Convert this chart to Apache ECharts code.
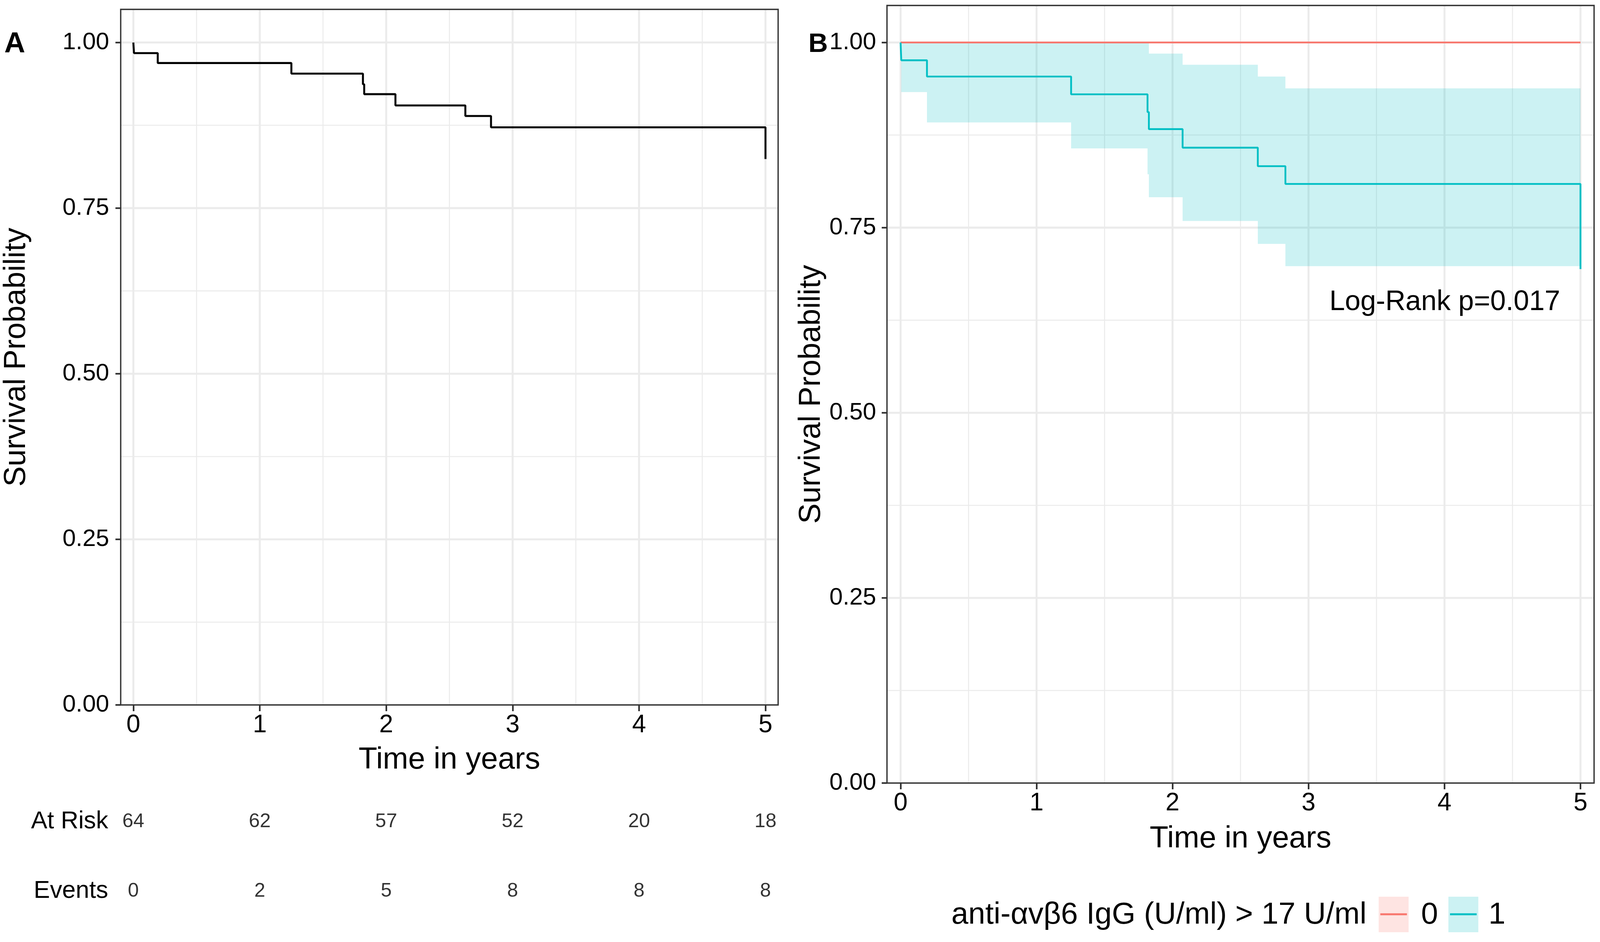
<!DOCTYPE html>
<html lang="en">
<head>
    <meta charset="UTF-8">
    <title>Survival curves</title>
    <script src="https://cdn.jsdelivr.net/npm/echarts@6/dist/echarts.min.js"></script>
    <style>
        html, body { margin: 0; padding: 0; background: #fff; overflow: hidden; }
        #main { width: 100vw; height: 100vh; }
    </style>
</head>
<body>
    <div id="main"></div>

    <script>
        // panel A: whole cohort
        var timeA = [0, 0.005, 0.193, 1.25, 1.816, 1.826, 2.073, 2.626, 2.829, 5.0];
        var survA = [1.0, 0.984, 0.969, 0.953, 0.937, 0.922, 0.905, 0.889, 0.872, 0.824];

        // panel B: group 0 (red) and group 1 (teal, with confidence band)
        var timeB0 = [0, 5.0];
        var survB0 = [1.0, 1.0];
        var timeB1 = [0, 0.005, 0.194, 1.254, 1.816, 1.826, 2.074, 2.627, 2.830, 5.0];
        var survB1 = [1.0, 0.976, 0.954, 0.930, 0.906, 0.883, 0.858, 0.833, 0.809, 0.694];
        var lowerB1 = [1.0, 0.933, 0.892, 0.857, 0.822, 0.791, 0.759, 0.728, 0.698, 0.698];
        var upperB1 = [1.0, 1.0, 1.0, 1.0, 1.0, 0.985, 0.970, 0.954, 0.938, 0.938];

        // risk table under panel A
        var riskTimes = [0, 1, 2, 3, 4, 5];
        var atRisk = [64, 62, 57, 52, 20, 18];
        var events = [0, 2, 5, 8, 8, 8];
        var tableRows = ['Events', 'At Risk'];

        // axis breaks
        var xTicks = [0, 1, 2, 3, 4, 5];
        var xMinor = [0.5, 1.5, 2.5, 3.5, 4.5];
        var yTicks = [0, 0.25, 0.5, 0.75, 1];
        var yMinor = [0.125, 0.375, 0.625, 0.875];

        var groupNames = ['0', '1'];
        var legendTitle = 'anti-\u03b1v\u03b26 IgG (U/ml) > 17 U/ml';
        var pValueText = 'Log-Rank p=0.017';

        var FONT = '"Liberation Sans", Arial, Helvetica, sans-serif';
        var RED = '#F8766D';
        var TEAL = '#00BFC4';

        var dom = document.getElementById('main');
        var mychart = echarts.init(dom, null, { renderer: 'canvas' });

        // layout was measured on a 4865 x 2412 picture; scale to whatever the window is
        var sx = dom.clientWidth / 4865;
        var sy = dom.clientHeight / 2412;
        var ls = Math.min(sx, sy);          // line widths
        var ts = Math.sqrt(sx * sy);        // text sizes
        function X(v) { return v * sx; }
        function Y(v) { return v * sy; }
        function F(v) { return v * ls; }
        function T(v) { return v * ts; }

        function pairs(xs, ys) {
            return xs.map(function (x, i) { return [x, ys[i]]; });
        }

        // background grid lines, drawn through the axis scales
        function gridLines(idx) {
            var items = [];
            xTicks.forEach(function (v) { items.push([0, v, 1]); });
            xMinor.forEach(function (v) { items.push([0, v, 0]); });
            yTicks.forEach(function (v) { if (v > 0) items.push([1, v, 1]); });
            yMinor.forEach(function (v) { items.push([1, v, 0]); });
            return {
                type: 'custom',
                xAxisIndex: idx,
                yAxisIndex: idx,
                silent: true,
                z: 1,
                data: items,
                renderItem: function (params, api) {
                    var cs = params.coordSys;
                    var kind = api.value(0), v = api.value(1), major = api.value(2);
                    var shape;
                    if (kind === 0) {
                        var px = api.coord([v, 0])[0];
                        shape = { x1: px, y1: cs.y, x2: px, y2: cs.y + cs.height };
                    } else {
                        var py = api.coord([0, v])[1];
                        shape = { x1: cs.x, y1: py, x2: cs.x + cs.width, y2: py };
                    }
                    return {
                        type: 'line',
                        shape: shape,
                        style: { stroke: '#EBEBEB', lineWidth: F(major ? 6 : 3) }
                    };
                }
            };
        }

        // confidence band of group 1 as one stepped polygon
        var bandSeries = {
            type: 'custom',
            xAxisIndex: 1,
            yAxisIndex: 1,
            silent: true,
            z: 2,
            data: [[timeB1[0], lowerB1[0]]],
            renderItem: function (params, api) {
                var pts = [];
                var n = timeB1.length;
                for (var i = 0; i < n - 1; i++) {
                    pts.push(api.coord([timeB1[i], upperB1[i]]));
                    pts.push(api.coord([timeB1[i + 1], upperB1[i]]));
                }
                for (var j = n - 2; j >= 0; j--) {
                    pts.push(api.coord([timeB1[j + 1], lowerB1[j]]));
                    pts.push(api.coord([timeB1[j], lowerB1[j]]));
                }
                return {
                    type: 'polygon',
                    shape: { points: pts },
                    style: { fill: 'rgba(0,191,196,0.2)' }
                };
            }
        };

        function xAxisFor(idx, gap) {
            return {
                type: 'value', gridIndex: idx, min: -0.1, max: 5.1,
                splitLine: { show: false },
                axisLine: { show: false, onZero: false },
                axisTick: { show: true, length: Y(16), customValues: xTicks, lineStyle: { color: '#333333', width: F(5) } },
                axisLabel: {
                    customValues: xTicks, fontSize: T(70), color: '#000', margin: Y(20), fontFamily: FONT,
                    formatter: function (v) { return String(v); }
                },
                name: 'Time in years', nameLocation: 'middle', nameGap: Y(gap),
                nameTextStyle: { fontSize: T(85), color: '#000', fontFamily: FONT, verticalAlign: 'middle' }
            };
        }

        function yAxisFor(idx, labelMargin, gap) {
            return {
                type: 'value', gridIndex: idx, min: 0, max: 1.05,
                splitLine: { show: false },
                axisLine: { show: false, onZero: false },
                axisTick: { show: true, length: X(16), customValues: yTicks, lineStyle: { color: '#333333', width: F(5) } },
                axisLabel: {
                    customValues: yTicks, fontSize: T(67), color: '#000', margin: X(labelMargin), fontFamily: FONT,
                    formatter: function (v) { return v.toFixed(2); }
                },
                name: 'Survival Probability', nameLocation: 'middle', nameRotate: 90, nameGap: X(gap),
                nameTextStyle: { fontSize: T(85), color: '#000', fontFamily: FONT, verticalAlign: 'middle' }
            };
        }

        var tableData = [];
        riskTimes.forEach(function (t, i) {
            tableData.push([t, 'At Risk', atRisk[i]]);
            tableData.push([t, 'Events', events[i]]);
        });

        var option = {
            animation: false,
            backgroundColor: '#fff',
            textStyle: { fontFamily: FONT },
            grid: [
                { left: X(367), top: Y(24), width: X(1999), height: Y(1781), show: true, z: 10,
                  borderColor: '#333333', borderWidth: F(4), backgroundColor: 'transparent', outerBoundsMode: 'none' },
                { left: X(2697), top: Y(14), width: X(2150), height: Y(1991), show: true, z: 10,
                  borderColor: '#333333', borderWidth: F(4), backgroundColor: 'transparent', outerBoundsMode: 'none' },
                { left: X(367), top: Y(2015), width: X(1999), height: Y(356), show: false, outerBoundsMode: 'none' }
            ],
            xAxis: [
                xAxisFor(0, 141),
                xAxisFor(1, 143),
                { type: 'value', gridIndex: 2, min: -0.1, max: 5.1, show: false }
            ],
            yAxis: [
                yAxisFor(0, 35, 316),
                yAxisFor(1, 33, 230),
                {
                    type: 'category', gridIndex: 2, data: tableRows,
                    axisLine: { show: false }, axisTick: { show: false }, splitLine: { show: false },
                    axisLabel: { fontSize: T(68), color: '#000', margin: X(38), fontFamily: FONT }
                }
            ],
            series: [
                gridLines(0),
                {
                    type: 'line', name: 'All', xAxisIndex: 0, yAxisIndex: 0,
                    data: pairs(timeA, survA), step: 'end', symbol: 'none', z: 3,
                    lineStyle: { color: '#000', width: F(6) }, silent: true
                },
                gridLines(1),
                bandSeries,
                {
                    type: 'line', name: groupNames[0], xAxisIndex: 1, yAxisIndex: 1,
                    data: pairs(timeB0, survB0), step: 'end', symbol: 'none', z: 3,
                    lineStyle: { color: RED, width: F(5.5) }, silent: true
                },
                {
                    type: 'line', name: groupNames[1], xAxisIndex: 1, yAxisIndex: 1,
                    data: pairs(timeB1, survB1), step: 'end', symbol: 'none', z: 3,
                    lineStyle: { color: TEAL, width: F(5.5) }, silent: true
                },
                {
                    type: 'scatter', xAxisIndex: 2, yAxisIndex: 2,
                    data: tableData, symbolSize: 1, silent: true,
                    itemStyle: { color: 'rgba(0,0,0,0)' },
                    label: {
                        show: true, position: 'inside', fontSize: T(55), color: '#000', fontFamily: FONT,
                        formatter: function (p) { return String(p.value[2]); }
                    }
                }
            ],
            graphic: [
                { type: 'text', x: X(13), y: Y(114), z: 20,
                  style: { text: 'A', fontSize: X(88), fontWeight: 'bold', fontFamily: FONT, fill: '#000',
                           textAlign: 'left', textVerticalAlign: 'middle' } },
                { type: 'text', x: X(2458), y: Y(114), z: 20,
                  style: { text: 'B', fontSize: X(82), fontWeight: 'bold', fontFamily: FONT, fill: '#000',
                           textAlign: 'left', textVerticalAlign: 'middle' } },
                { type: 'text', x: X(4393), y: Y(774), z: 20,
                  style: { text: pValueText, fontSize: T(78), fontFamily: FONT, fill: '#000',
                           textAlign: 'center', textVerticalAlign: 'middle' } },
                // legend
                { type: 'text', x: X(4155), y: Y(2343), z: 20,
                  style: { text: legendTitle, fontSize: T(85), fontFamily: FONT, fill: '#000',
                           textAlign: 'right', textVerticalAlign: 'middle' } },
                { type: 'rect', shape: { x: X(4192), y: Y(2296), width: X(91), height: Y(91) }, z: 20,
                  style: { fill: '#FEE4E2' } },
                { type: 'line', shape: { x1: X(4197), y1: Y(2341), x2: X(4278), y2: Y(2341) }, z: 21,
                  style: { stroke: RED, lineWidth: F(6) } },
                { type: 'text', x: X(4321), y: Y(2343), z: 20,
                  style: { text: groupNames[0], fontSize: T(85), fontFamily: FONT, fill: '#000',
                           textAlign: 'left', textVerticalAlign: 'middle' } },
                { type: 'rect', shape: { x: X(4404), y: Y(2296), width: X(91), height: Y(91) }, z: 20,
                  style: { fill: '#CCF2F3' } },
                { type: 'line', shape: { x1: X(4409), y1: Y(2341), x2: X(4490), y2: Y(2341) }, z: 21,
                  style: { stroke: TEAL, lineWidth: F(6) } },
                { type: 'text', x: X(4526), y: Y(2343), z: 20,
                  style: { text: groupNames[1], fontSize: T(85), fontFamily: FONT, fill: '#000',
                           textAlign: 'left', textVerticalAlign: 'middle' } }
            ]
        };

        mychart.setOption(option);
    </script>
</body>
</html>
